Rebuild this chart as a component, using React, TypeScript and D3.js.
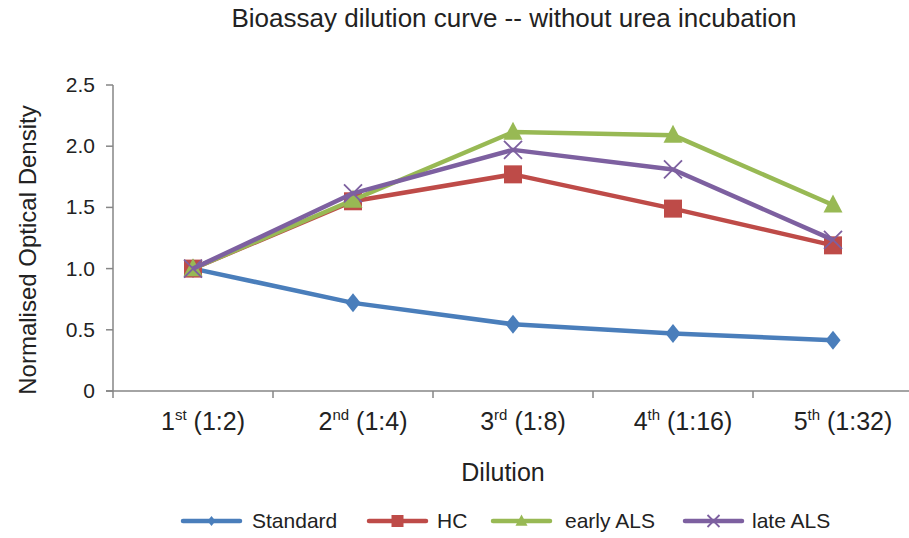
import React, { useEffect, useRef } from 'react'
import * as d3 from 'd3'

// dilution steps on the x axis
const dilutions = ['1st (1:2)', '2nd (1:4)', '3rd (1:8)', '4th (1:16)', '5th (1:32)']
const ordinal = ['1', '2', '3', '4', '5']
const suffix = ['st', 'nd', 'rd', 'th', 'th']
const ratio = ['(1:2)', '(1:4)', '(1:8)', '(1:16)', '(1:32)']

const standard = [1.0, 0.72, 0.545, 0.47, 0.415]
const hc = [1.0, 1.55, 1.77, 1.49, 1.19]
const earlyALS = [1.0, 1.56, 2.115, 2.09, 1.52]
const lateALS = [1.0, 1.615, 1.97, 1.81, 1.235]

const yTicks = [0, 0.5, 1.0, 1.5, 2.0, 2.5]

const series = [
  { name: 'Standard', values: standard, color: '#4A7EBB', marker: 'diamond' },
  { name: 'HC', values: hc, color: '#BE4B48', marker: 'square' },
  { name: 'early ALS', values: earlyALS, color: '#98B954', marker: 'triangle' },
  { name: 'late ALS', values: lateALS, color: '#7D60A0', marker: 'cross' },
]

export default function App() {
  const ref = useRef<SVGSVGElement>(null)

  useEffect(() => {
    const svg = d3.select(ref.current)
    svg.selectAll('*').remove()

    const font = 'Liberation Sans, Arial, sans-serif'
    const axisColor = '#868686'

    // plot area
    const left = 113, right = 913, top = 85, bottom = 391

    const x = d3.scaleBand().domain(dilutions).range([left, right])
    const y = d3.scaleLinear().domain([0, 2.5]).range([bottom, top])

    // title
    svg.append('text')
      .attr('x', 514).attr('y', 27)
      .attr('text-anchor', 'middle')
      .style('font-family', font).style('font-size', '26px')
      .style('fill', '#222')
      .text('Bioassay dilution curve -- without urea incubation')

    // y axis
    const g = svg.append('g')
    g.append('line')
      .attr('x1', left).attr('x2', left).attr('y1', top).attr('y2', bottom)
      .style('stroke', axisColor).style('stroke-width', 1.5)
    yTicks.forEach(t => {
      g.append('line')
        .attr('x1', left - 7).attr('x2', left).attr('y1', y(t)).attr('y2', y(t))
        .style('stroke', axisColor).style('stroke-width', 1.5)
      g.append('text')
        .attr('x', 95).attr('y', y(t) + 7)
        .attr('text-anchor', 'end')
        .style('font-family', font).style('font-size', '21px').style('fill', '#222')
        .text(t === 0 ? '0' : t.toFixed(1))
    })

    // x axis
    g.append('line')
      .attr('x1', left - 7).attr('x2', right).attr('y1', bottom).attr('y2', bottom)
      .style('stroke', axisColor).style('stroke-width', 1.5)
    dilutions.forEach((d, i) => {
      const x0 = x(d)!
      g.append('line')
        .attr('x1', x0).attr('x2', x0).attr('y1', bottom).attr('y2', bottom + 7)
        .style('stroke', axisColor).style('stroke-width', 1.5)
      const t = g.append('text')
        .attr('x', x0 + x.bandwidth() / 2 + 10).attr('y', 430)
        .attr('text-anchor', 'middle')
        .style('font-family', font)
        .style('font-size', '25px').style('fill', '#222')
      t.append('tspan').text(ordinal[i])
      t.append('tspan').attr('dy', -10).style('font-size', '15px').text(suffix[i])
      t.append('tspan').attr('dy', 10).text(' ' + ratio[i])
    })

    // axis titles
    svg.append('text')
      .attr('transform', 'translate(36,250) rotate(-90)')
      .attr('text-anchor', 'middle')
      .style('font-family', font).style('font-size', '24px').style('fill', '#222')
      .text('Normalised Optical Density')
    svg.append('text')
      .attr('x', 503).attr('y', 481)
      .attr('text-anchor', 'middle')
      .style('font-family', font)
      .style('font-size', '25px').style('fill', '#222')
      .text('Dilution')

    const cx = (i: number) => x(dilutions[i])! + x.bandwidth() / 2

    const drawMarker = (sel: any, kind: string, color: string, px: number, py: number, s: number) => {
      if (kind === 'diamond') {
        sel.append('path')
          .attr('d', `M${px},${py - s}L${px + s * 0.8},${py}L${px},${py + s}L${px - s * 0.8},${py}Z`)
          .style('fill', color)
      } else if (kind === 'square') {
        sel.append('rect')
          .attr('x', px - s).attr('y', py - s).attr('width', s * 2).attr('height', s * 2)
          .style('fill', color)
      } else if (kind === 'triangle') {
        sel.append('path')
          .attr('d', `M${px},${py - s * 1.1}L${px + s},${py + s * 0.8}L${px - s},${py + s * 0.8}Z`)
          .style('fill', color)
      } else {
        sel.append('path')
          .attr('d', `M${px - s},${py - s}L${px + s},${py + s}M${px - s},${py + s}L${px + s},${py - s}`)
          .style('stroke', color).style('stroke-width', 1.8).style('fill', 'none')
      }
    }

    const markerSize: any = { diamond: 9.5, square: 9, triangle: 9.5, cross: 9 }

    const line = d3.line<number>()
      .x((d, i) => cx(i))
      .y(d => y(d))

    series.forEach(s => {
      const sg = svg.append('g')
      sg.append('path')
        .datum(s.values)
        .attr('d', line)
        .style('fill', 'none')
        .style('stroke', s.color)
        .style('stroke-width', 4.5)
        .style('stroke-linejoin', 'round')
      s.values.forEach((v, i) => drawMarker(sg, s.marker, s.color, cx(i), y(v), markerSize[s.marker]))
    })

    // legend
    const legendX = [183, 369, 493, 685]
    const legendTextX = [252, 437, 565, 752]
    series.forEach((s, i) => {
      const lg = svg.append('g')
      lg.append('line')
        .attr('x1', legendX[i]).attr('x2', legendX[i] + 57).attr('y1', 521).attr('y2', 521)
        .style('stroke', s.color).style('stroke-width', 4.5).style('stroke-linecap', 'round')
      drawMarker(lg, s.marker, s.color, legendX[i] + 28.5, 521, s.marker === 'diamond' ? 5 : 6)
      lg.append('text')
        .attr('x', legendTextX[i]).attr('y', 528)
        .style('font-family', font)
        .style('font-size', '21px').style('fill', '#222')
        .text(s.name)
    })
  }, [])

  return (
    <div>
      <svg ref={ref} width={909} height={538} style={{ position: 'absolute', left: 0, top: 0, background: '#fff' }} />
    </div>
  )
}
